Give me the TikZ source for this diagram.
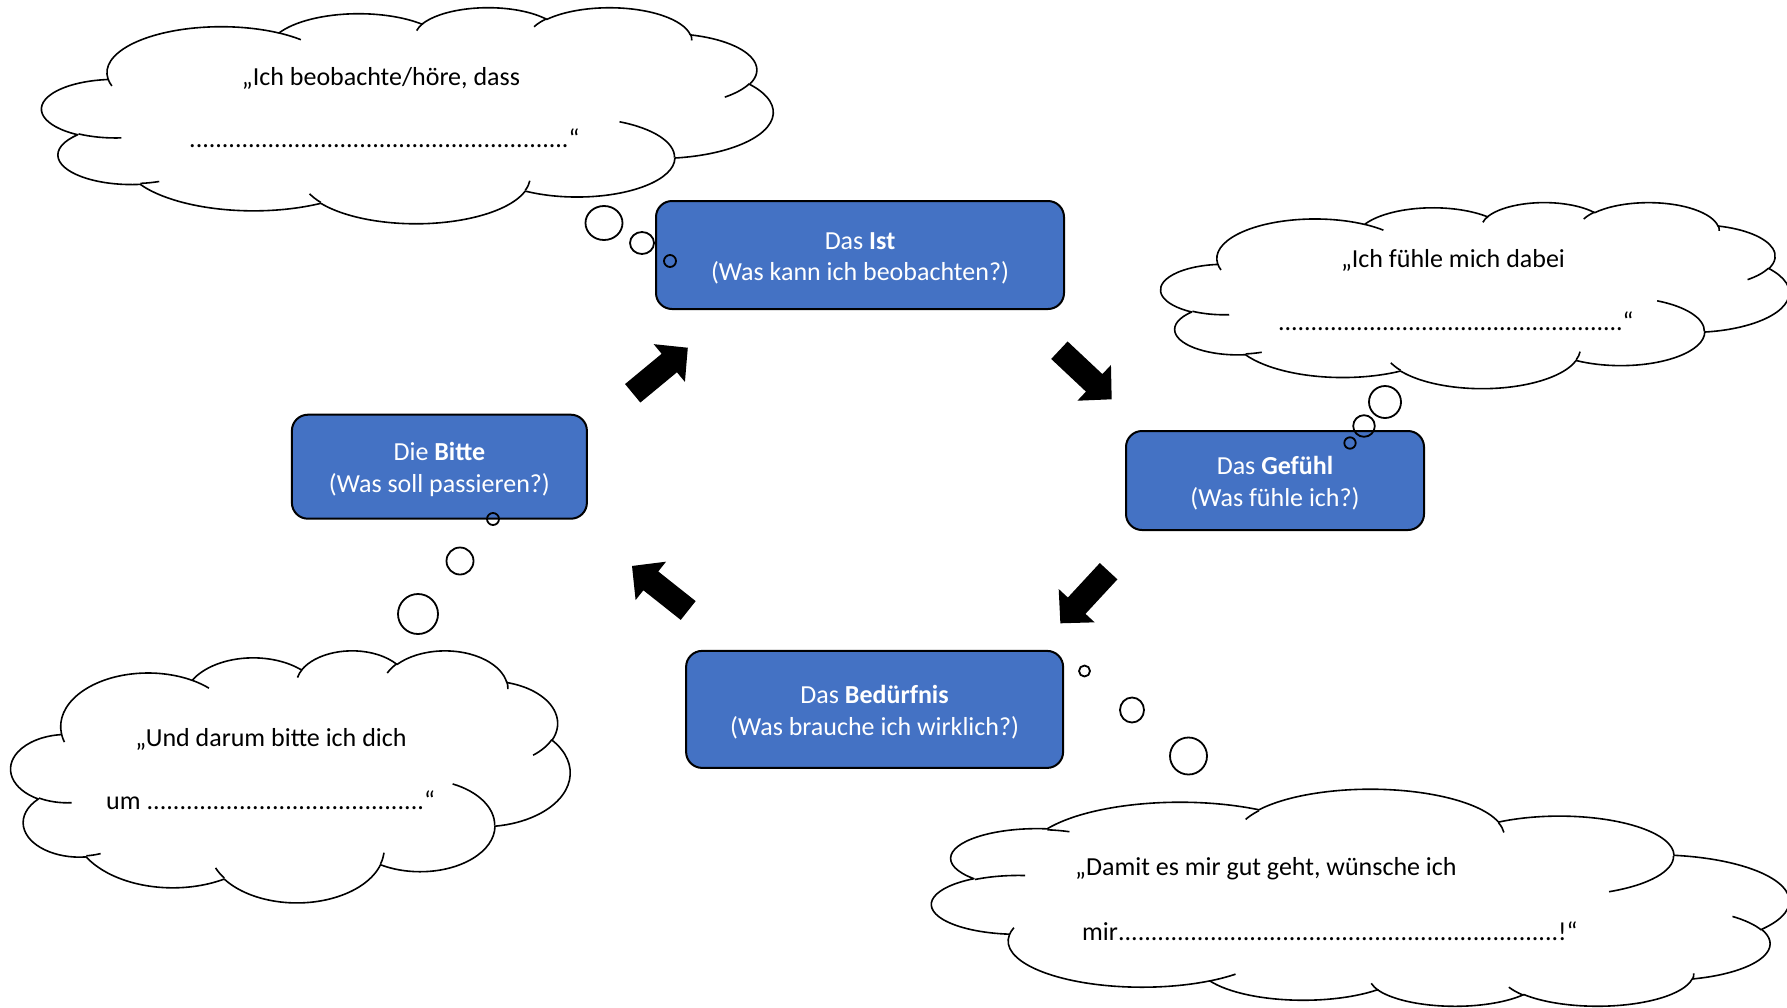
\documentclass[tikz,border=0pt]{standalone}
\usepackage{fontspec}
\setmainfont{Carlito}
\definecolor{boxblue}{HTML}{4472C4}
\newcommand{\boxfont}{\fontsize{26}{31.5}\selectfont}
\newcommand{\cloudfont}{\fontsize{26}{31.5}\selectfont}
\newcommand{\dotrow}[1]{\hbox to #1{\xleaders\hbox to 6.5pt{\hss.\hss}\hfil}}
\tikzset{
  declare function={pa(\w,\h,\a)=atan2(\w*sin(\a),\h*cos(\a));},
  cloudline/.style={draw=black, line width=1.6pt, line join=round},
  stepbox/.style={draw=black, line width=2pt, fill=boxblue, rounded corners=16pt, inner sep=0pt},
  boxtext/.style={text=white, align=center, inner sep=0pt, font=\boxfont},
  bubble/.style={draw=black, line width=1.8pt},
  blockarrow/.style={fill=black},
  cloudtext/.style={font=\cloudfont, inner sep=0pt},
}
\def\ca#1#2#3#4{arc[x radius=#1, y radius=#2, start angle={pa(#1,#2,#3)}, delta angle={mod(pa(#1,#2,#3+#4)-pa(#1,#2,#3)+720,360)}]}
% #1 x0, #2 y0, #3 w, #4 h, #5 = 1 (normal) or -1 (flipped vertically)
\newcommand{\cloudshape}[5]{%
  \begin{scope}[shift={(#1,{#2+(1-#5)/2*#4})}, xscale=#3/432, yscale={#5*#4/432}]
    \path[cloudline, fill=white] (39.00,143.70)
      \ca{67.53}{91.90}{-190.4875}{123.7805}
      \ca{53.33}{72.67}{-144.1024}{89.9452}
      \ca{43.65}{59.45}{-145.8079}{99.7230}
      \ca{48.57}{65.95}{-130.9861}{117.2417}
      \ca{53.33}{72.73}{-78.7089}{109.0269}
      \ca{67.75}{92.20}{-46.2673}{130.2690}
      \ca{57.85}{78.67}{0.6250}{114.0333}
      \ca{67.52}{92.15}{22.4516}{115.1726}
      \ca{77.20}{105.43}{66.2426}{75.7110}
      \ca{43.60}{59.18}{-274.9421}{146.7356}
      \ca{43.45}{59.45}{-246.8285}{152.5189}
      -- cycle;
    \draw[cloudline]
      (46.93,261.77) \ca{43.45}{59.45}{86.7420}{26.4295}
      (69.28,348.99) \ca{43.60}{59.18}{73.6105}{11.4475}
      (164.78,390.90) \ca{67.52}{92.15}{137.6242}{14.0811}
      (288.27,347.51) \ca{67.52}{92.15}{6.4533}{15.9984}
      (341.29,229.54) \ca{57.85}{78.67}{-70.2924}{70.9174}
      (417.98,153.54) \ca{53.33}{72.73}{30.3180}{27.7515}
      (383.24,54.26) \ca{48.57}{65.95}{-13.7443}{14.8660}
      (290.78,39.52) \ca{48.57}{65.95}{-149.1815}{18.1954}
      (221.41,47.20) \ca{43.65}{59.45}{-163.4943}{17.6864}
      (140.00,51.92) \ca{67.53}{91.90}{-66.7070}{12.3194}
      (41.27,157.89) \ca{67.53}{91.90}{157.6544}{11.8582};
  \end{scope}%
}
\newcommand{\blockarr}[4]{%
  \fill[blockarrow, shift={(#1,#2)}, rotate=#3] (0,-12) -- ({#4-24},-12) -- ({#4-24},-24.5)
    -- (#4,0) -- ({#4-24},24.5) -- ({#4-24},12) -- (0,12) -- cycle;%
}
\begin{document}
\begin{tikzpicture}[x=1pt,y=-1pt]
\useasboundingbox (0,0) rectangle (1787,1007);
% clouds
\cloudshape{42}{7}{731}{216}{1}
\cloudshape{1161}{202}{628}{186}{1}
\cloudshape{11}{650}{559}{252}{1}
\cloudshape{932}{790}{857}{217}{-1}
% cloud texts
\node[cloudtext, anchor=base] (c1a) at (381,85) {„Ich beobachte/höre, dass};
\node[cloudtext, anchor=base west] (c1b) at (189,147) {\dotrow{380pt}“};
\node[cloudtext, anchor=base] (c2a) at (1453,267.5) {„Ich fühle mich dabei};
\node[cloudtext, anchor=base west] (c2b) at (1278,330) {\dotrow{345pt}“};
\node[cloudtext, anchor=base] (c3a) at (271,746) {„Und darum bitte ich dich};
\node[cloudtext, anchor=base west] (c3b) at (106,809) {um \dotrow{278pt}“};
\node[cloudtext, anchor=base west] (c4a) at (1075,875) {„Damit es mir gut geht, wünsche ich};
\node[cloudtext, anchor=base west] (c4b) at (1082,940) {mir\dotrow{441pt}!“};
% boxes
\node[stepbox, minimum width=408pt, minimum height=108pt] (ist) at (860,255) {};
\node[boxtext] (ist-t) at ([yshift=-3.4pt]ist.center) {Das \textbf{Ist}\\(Was kann ich beobachten?)};
\node[stepbox, minimum width=298pt, minimum height=99pt] (gefuehl) at (1275,480.5) {};
\node[boxtext] (gefuehl-t) at ([yshift=-2.5pt]gefuehl.center) {Das \textbf{Gefühl}\\(Was fühle ich?)};
\node[stepbox, minimum width=377pt, minimum height=117pt] (beduerfnis) at (874.6,709.4) {};
\node[boxtext] (beduerfnis-t) at ([yshift=-3pt]beduerfnis.center) {Das \textbf{Bedürfnis}\\(Was brauche ich wirklich?)};
\node[stepbox, minimum width=295pt, minimum height=104pt] (bitte) at (439.4,466.7) {};
\node[boxtext] (bitte-t) at ([yshift=-3pt]bitte.center) {Die \textbf{Bitte}\\(Was soll passieren?)};
% thought bubbles
\draw[bubble] (604,223) ellipse[x radius=18.5, y radius=17];
\draw[bubble] (642,243) ellipse[x radius=12, y radius=11];
\draw[bubble] (670,261) circle[radius=6];
\draw[bubble] (1385,402) circle[radius=16];
\draw[bubble] (1364,426) circle[radius=10.8];
\draw[bubble] (1350,443) circle[radius=5.7];
\draw[bubble] (493,519) circle[radius=6];
\draw[bubble] (460,561) circle[radius=13.5];
\draw[bubble] (418,614) circle[radius=20];
\draw[bubble] (1084.5,671) circle[radius=5.5];
\draw[bubble] (1132,710) ellipse[x radius=12, y radius=12.5];
\draw[bubble] (1188.5,756) circle[radius=18.5];
% block arrows
\blockarr{632.7}{393.3}{39.6}{71.5}
\blockarr{1059.4}{350.2}{-43.2}{71.7}
\blockarr{1108.6}{571.2}{-132.8}{71}
\blockarr{688.2}{610.5}{141.6}{71.7}
\end{tikzpicture}
\end{document}
